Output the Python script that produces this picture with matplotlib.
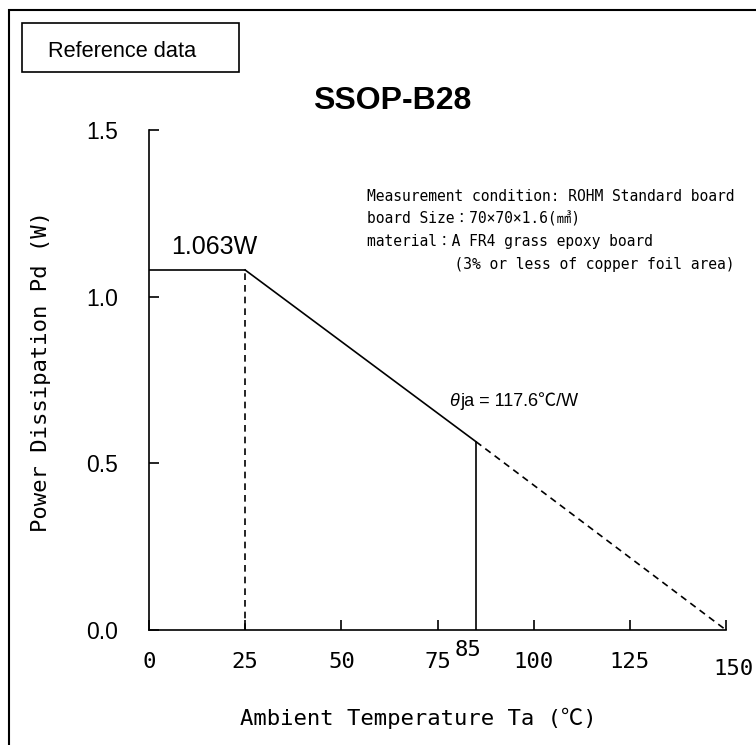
import matplotlib
matplotlib.use("Agg")
import matplotlib.pyplot as plt
from matplotlib.patches import Rectangle

# derating curve of the package
temp_flat = [0, 25]
pd_flat = [1.08, 1.08]
temp_slope = [25, 85]
pd_slope = [1.08, 0.565]
temp_derate = [85, 150]
pd_derate = [0.565, 0.0]

x_ticks = [0, 25, 50, 75, 100, 125, 150]
x_labels = ["0", "25", "50", "75", "100", "125", ""]
y_ticks = [0.0, 0.5, 1.0, 1.5]
y_labels = ["0.0", "0.5", "1.0", "1.5"]

title = "SSOP-B28"
pd_label = "1.063W"
theta_label = "ja = 117.6℃/W"
conditions = [
    "Measurement condition: ROHM Standard board",
    "board Size：70×70×1.6(㎣)",
    "material：A FR4 grass epoxy board",
    "          (3% or less of copper foil area)",
]

SANS = ["Liberation Sans", "Noto Sans CJK JP", "DejaVu Sans"]
MONO = ["DejaVu Sans Mono", "Noto Sans CJK JP"]

W, H = 756, 745
fig = plt.figure(figsize=(W / 100, H / 100), dpi=100)


def fx(px):
    return px / W


def fy(py):
    return 1 - py / H


# outer frame (only top and left edges fall inside the picture)
fig.patches.append(Rectangle((fx(9), -0.2), 1.2, fy(10) + 0.2, transform=fig.transFigure,
                             fill=False, edgecolor="black", linewidth=1.5, clip_on=False))
# "Reference data" box
fig.patches.append(Rectangle((fx(22), fy(72)), fx(239) - fx(22), fy(23) - fy(72),
                             transform=fig.transFigure, fill=False, edgecolor="black",
                             linewidth=1.2))
fig.text(fx(48), fy(57), "Reference data", family=SANS, fontsize=15.7, va="baseline")

ax = fig.add_axes([fx(149), fy(630), fx(726) - fx(149), fy(130) - fy(630)])

ax.plot(temp_flat, pd_flat, color="black", lw=1.2)
ax.plot(temp_slope, pd_slope, color="black", lw=1.2)
ax.plot(temp_derate, pd_derate, color="black", lw=1.2, dashes=(4, 3))
ax.vlines(temp_flat[1], 0, pd_flat[1], color="black", lw=1.2, linestyles=(0, (4, 3)))
ax.vlines(temp_derate[0], 0, pd_derate[0], color="black", lw=1.2)

ax.set_xlim(0, 150)
ax.set_ylim(0, 1.5)
for s in ["top", "right"]:
    ax.spines[s].set_visible(False)
for s in ["left", "bottom"]:
    ax.spines[s].set_linewidth(1.2)

ax.set_xticks(x_ticks)
ax.set_xticklabels(x_labels)
ax.set_yticks(y_ticks)
ax.set_yticklabels(y_labels)
ax.tick_params(direction="in", length=7, width=1.2)
ax.tick_params(axis="y", pad=22)
ax.tick_params(axis="x", pad=15.5)
for lbl in ax.get_xticklabels():
    lbl.set_fontfamily(MONO)
    lbl.set_fontsize(16)
for lbl in ax.get_yticklabels():
    lbl.set_fontfamily(SANS)
    lbl.set_fontsize(16.5)

# the 85 label sits higher and the 150 label lower/right, as in the original
ax.annotate("85", xy=(temp_derate[0], 0), xytext=(-5.5, -14.4), textcoords="offset points",
            ha="center", va="center", family=MONO, fontsize=16)
ax.annotate(str(temp_derate[1]), xy=(temp_derate[1], 0), xytext=(5.5, -28),
            textcoords="offset points", ha="center", va="center", family=MONO, fontsize=16)

ax.set_xlabel("Ambient Temperature Ta (℃)", family=MONO, fontsize=16)
ax.xaxis.set_label_coords((418 - 149) / 577, (630 - 718) / 500)
ax.xaxis.label.set_va("center")
ax.set_ylabel("Power Dissipation Pd (W)", family=MONO, fontsize=16)
ax.yaxis.set_label_coords((41 - 149) / 577, (630 - 372) / 500)
ax.yaxis.label.set_va("center")

ax.annotate(pd_label, xy=(17, pd_flat[1]), xytext=(0, 8), textcoords="offset points",
            family=SANS, fontsize=18, ha="center", va="bottom")
ax.annotate("θ", xy=(81, 0.687), xytext=(-1, 0), textcoords="offset points",
            family=SANS, style="italic", fontsize=13, ha="right", va="center")
ax.annotate(theta_label, xy=(81, 0.687), family=SANS, fontsize=13, ha="left", va="center")

fig.text(fx(392), fy(101), title, family=SANS, fontsize=23, fontweight="bold",
         ha="center", va="center")

for i, line in enumerate(conditions):
    fig.text(fx(367), fy(201 + 22.7 * i), line, family=MONO, fontsize=10.5, va="baseline")

fig.savefig("out.png", dpi=100)
